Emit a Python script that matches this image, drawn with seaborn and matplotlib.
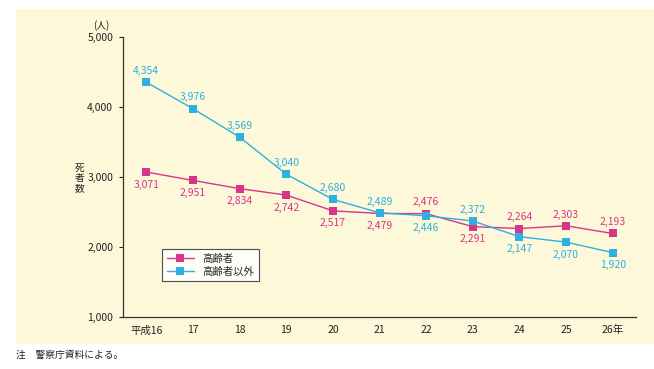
import matplotlib
matplotlib.use('Agg')
import matplotlib.pyplot as plt
from matplotlib.patches import Rectangle
from matplotlib.ticker import FixedLocator, FuncFormatter
import seaborn as sns
import pandas as pd

# --- données ---
years = ['平成16', '17', '18', '19', '20', '21', '22', '23', '24', '25', '26年']
elderly = [3071, 2951, 2834, 2742, 2517, 2479, 2476, 2291, 2264, 2303, 2193]
others = [4354, 3976, 3569, 3040, 2680, 2489, 2446, 2372, 2147, 2070, 1920]
series_names = ['高齢者', '高齢者以外']

# label au-dessus (+1) ou en dessous (-1) du point
elderly_side = [-1, -1, -1, -1, -1, -1, 1, -1, 1, 1, 1]
others_side = [1, 1, 1, 1, 1, 1, -1, 1, -1, -1, -1]

PINK = '#d63589'
CYAN = '#2eb0e0'
CREAM = '#fdf8d9'

sns.set_style('white')
plt.rcParams['font.family'] = ['Noto Sans CJK JP', 'DejaVu Sans']

df = pd.DataFrame({
    'x': list(range(len(years))) * 2,
    'val': elderly + others,
    'serie': [series_names[0]] * len(years) + [series_names[1]] * len(years),
})

fig = plt.figure(figsize=(6.54, 3.69), dpi=100)
fig.patch.set_facecolor('white')
fig.patches.append(Rectangle((16 / 654, 1 - 344 / 369), 1, (344 - 9) / 369,
                             transform=fig.transFigure, facecolor=CREAM,
                             edgecolor='none', zorder=-10))

ax = fig.add_axes([123 / 654, 1 - 317 / 369, (636 - 123) / 654, (317 - 37) / 369])
ax.set_facecolor('none')

sns.lineplot(data=df, x='x', y='val', hue='serie', palette=[PINK, CYAN],
             marker='s', markersize=5.5, markeredgewidth=0, linewidth=1.0,
             ax=ax, legend=True)

# étiquettes de valeurs
for vals, sides, col in [(elderly, elderly_side, PINK), (others, others_side, CYAN)]:
    for i, (v, s) in enumerate(zip(vals, sides)):
        ax.annotate(f'{v:,}', (i, v), xytext=(0, 4.5 if s > 0 else -5.5),
                    textcoords='offset points',
                    ha='center', va='bottom' if s > 0 else 'top',
                    color=col, fontsize=7.5)

ax.set_xlim(-0.5, 10.5)
ax.set_ylim(1000, 5000)
ax.yaxis.set_major_locator(FixedLocator([1000, 2000, 3000, 4000, 5000]))
ax.yaxis.set_major_formatter(FuncFormatter(lambda v, p: f'{int(v):,}'))
ax.set_xticks(range(len(years)))
ax.set_xticklabels(years)
ax.xaxis.set_minor_locator(FixedLocator([i + 0.5 for i in range(len(years))]))
ax.tick_params(axis='x', which='major', length=0, labelsize=7.5, pad=6, colors='#222222')
ax.tick_params(axis='x', which='minor', direction='in', length=4, width=0.8, color='#333333')
ax.tick_params(axis='y', which='major', direction='out', length=3, width=0.8,
               labelsize=7.5, pad=4, colors='#222222', left=True)
for sp in ['top', 'right']:
    ax.spines[sp].set_visible(False)
for sp in ['left', 'bottom']:
    ax.spines[sp].set_color('#333333')
    ax.spines[sp].set_linewidth(0.9)
ax.set_xlabel('')
ax.set_ylabel('')

fig.text(80 / 654, 1 - 178 / 369, '死\n者\n数', ha='center', va='center',
         fontsize=7, linespacing=1.0, color='#222222')
fig.text(101 / 654, 1 - 26 / 369, '(人)', ha='center', va='center',
         fontsize=7, color='#222222')
fig.text(16 / 654, 1 - 355 / 369, '注　警察庁資料による。', ha='left', va='center',
         fontsize=7, color='#222222')

leg = ax.legend(loc='upper left', bbox_to_anchor=((157 - 123) / 513, (317 - 244) / 280),
                frameon=True, fancybox=False, fontsize=7.5, handlelength=2.6,
                borderpad=0.45, labelspacing=0.25, handletextpad=0.8)
leg.get_frame().set_edgecolor('#222222')
leg.get_frame().set_linewidth(0.8)
leg.get_frame().set_facecolor('white')

fig.savefig('out.png', dpi=100, facecolor='white')
